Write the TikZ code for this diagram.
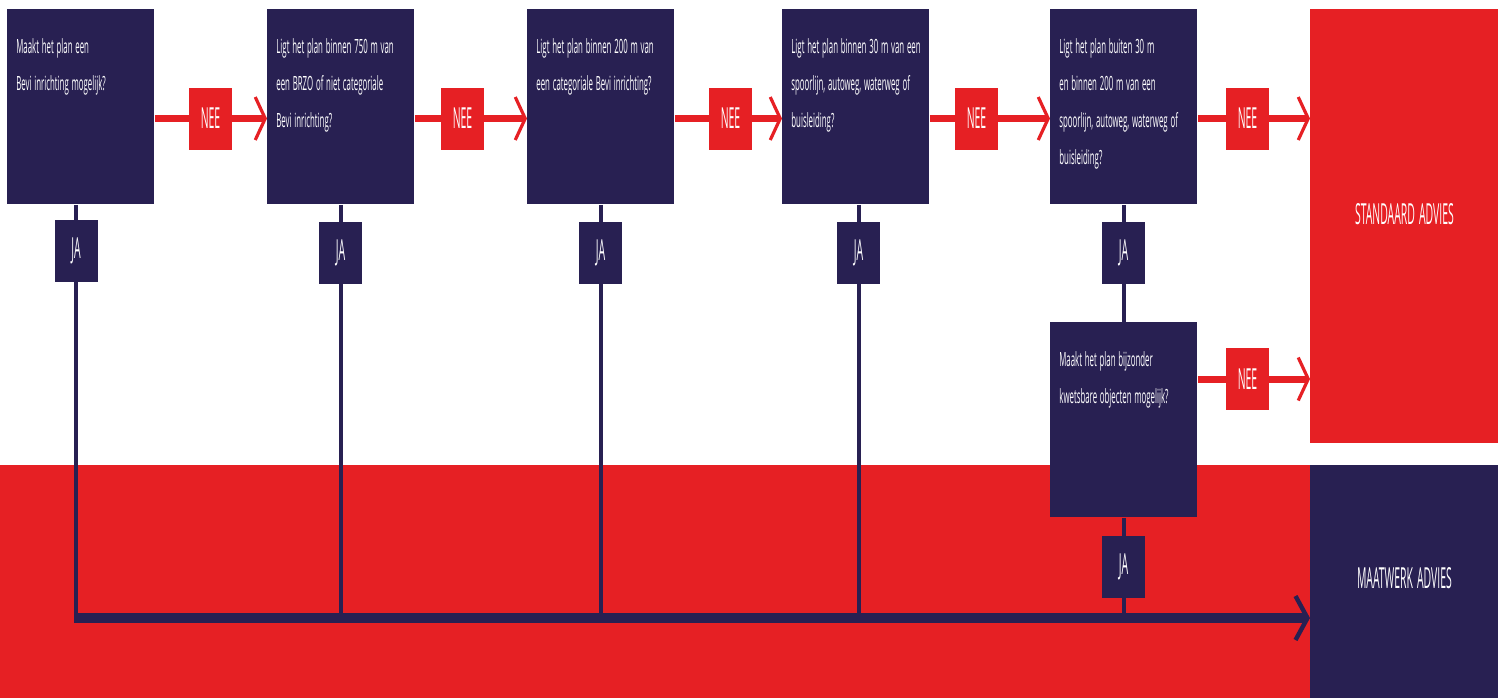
\documentclass[tikz,border=0pt]{standalone}
\usepackage{fontspec}
\newfontfamily\qfont[FakeStretch=0.40]{Open Sans}
\newfontfamily\lfont[FakeStretch=0.36]{Open Sans}
\usetikzlibrary{arrows.meta,backgrounds}
\definecolor{navy}{RGB}{40,32,82}
\definecolor{rood}{RGB}{230,32,36}
\tikzset{
  vraag/.style={anchor=north west, fill=navy, text=white, inner sep=0pt,
    text width=73.5pt, align=left, text height=22pt, text depth=75.5pt,
    execute at begin node={\leftskip=4.5pt\spaceskip=1.4pt plus 0.5pt},
    font=\qfont\fontsize{9.8}{18.5}\selectfont},
  ja/.style={fill=navy, text=white, inner sep=0pt, minimum width=21.5pt,
    minimum height=31pt, font=\lfont\fontsize{14.5}{14.5}\selectfont},
  nee/.style={ja, fill=rood},
  advies/.style={anchor=north west, inner sep=0pt, text width=94pt,
    align=center, text=white, font=\lfont\fontsize{14.5}{14.5}\selectfont,
    execute at begin node={\spaceskip=2pt}},
  neeline/.style={rood, line width=3.5pt,
    -{Straight Barb[length=5pt,width=21.5pt,line width=1.6pt]}},
  jaline/.style={navy, line width=2pt},
  hoofdlijn/.style={navy, line width=5pt,
    -{Straight Barb[length=6pt,width=22pt,line width=2.2pt]}}
}
\begin{document}
\begin{tikzpicture}[x=0.5pt,y=-0.5pt]
  \useasboundingbox (0,0) rectangle (1498,698);
  % vragen
  \node[vraag] (q1) at (7,9) {Maakt het plan een\\Bevi inrichting mogelijk?};
  \node[vraag] (q2) at (267,9) {Ligt het plan binnen 750 m van\\een BRZO of niet categoriale\\Bevi inrichting?};
  \node[vraag] (q3) at (527,9) {Ligt het plan binnen 200 m van\\een categoriale Bevi inrichting?};
  \node[vraag] (q4) at (782,9) {Ligt het plan binnen 30 m van een\\spoorlijn, autoweg, waterweg of\\buisleiding?};
  \node[vraag] (q5) at (1050,9) {Ligt het plan buiten 30 m\\en binnen 200 m van een\\spoorlijn, autoweg, waterweg of\\buisleiding?};
  \node[vraag] (q6) at (1050,322) {Maakt het plan bijzonder\\kwetsbare objecten mogelijk?};
  % uitkomsten
  \node[advies, fill=rood, text height=107.75pt, text depth=109.25pt] (std) at (1310,9) {STANDAARD ADVIES};
  \node[advies, fill=navy, text height=61.5pt, text depth=55pt] (maat) at (1310,465) {MAATWERK ADVIES};
  % NEE
  \node[nee] (nee1) at (210.5,118.5) {NEE};
  \node[nee] (nee2) at (462.5,118.5) {NEE};
  \node[nee] (nee3) at (730.5,118.5) {NEE};
  \node[nee] (nee4) at (976.5,118.5) {NEE};
  \node[nee] (nee5) at (1247.5,118.5) {NEE};
  \node[nee] (nee6) at (1247.5,379) {NEE};
  % JA
  \node[ja] (ja1) at (76,251) {JA};
  \node[ja] (ja2) at (340.5,252.5) {JA};
  \node[ja] (ja3) at (600.5,252.5) {JA};
  \node[ja] (ja4) at (858.5,252.5) {JA};
  \node[ja] (ja5) at (1123.5,252.5) {JA};
  \node[ja] (ja6) at (1123.5,566.5) {JA};
  \coordinate (hoek) at (74,618);
  \begin{pgfonlayer}{background}
    \fill[rood] (0,465) rectangle (1310,698);
    \draw[neeline] (q1.east |- nee1) -- (q2.west |- nee1);
    \draw[neeline] (q2.east |- nee2) -- (q3.west |- nee2);
    \draw[neeline] (q3.east |- nee3) -- (q4.west |- nee3);
    \draw[neeline] (q4.east |- nee4) -- (q5.west |- nee4);
    \draw[neeline] (q5.east |- nee5) -- (std.west |- nee5);
    \draw[neeline] (q6.east |- nee6) -- (std.west |- nee6);
    \draw[jaline] (q1.south -| ja1) -- (ja1 |- hoek);
    \draw[jaline] (q2.south -| ja2) -- (ja2 |- hoek);
    \draw[jaline] (q3.south -| ja3) -- (ja3 |- hoek);
    \draw[jaline] (q4.south -| ja4) -- (ja4 |- hoek);
    \draw[jaline] (q5.south -| ja5) -- (q6.north -| ja5);
    \draw[jaline] (q6.south -| ja6) -- (ja6 |- hoek);
    \draw[hoofdlijn] (hoek) -- (hoek -| maat.west);
  \end{pgfonlayer}
\end{tikzpicture}
\end{document}
